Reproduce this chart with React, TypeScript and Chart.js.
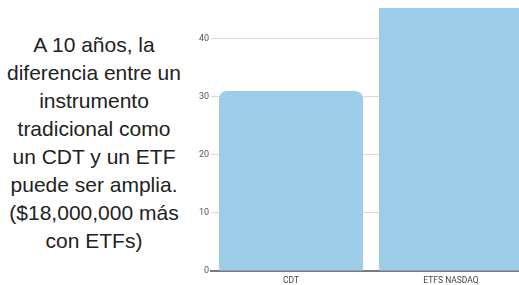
import React, { useEffect, useRef } from "react";
import { Chart, registerables } from "chart.js";

Chart.register(...registerables);

const categories = ["CDT", "ETFS NASDAQ"];
const values = [31, 49];
const yTicks = [0, 10, 20, 30, 40];
const yMax = 45.3;
const textLines = [
  "A 10 años, la",
  "diferencia entre un",
  "instrumento",
  "tradicional como",
  "un CDT y un ETF",
  "puede ser amplia.",
  "($18,000,000 más",
  "con ETFs)",
];

export default function App() {
  const ref = useRef<HTMLCanvasElement | null>(null);

  useEffect(() => {
    if (!ref.current) return;
    const chart = new Chart(ref.current, {
      type: "bar",
      data: {
        labels: categories,
        datasets: [
          {
            data: values,
            backgroundColor: "#9ecde9",
            borderWidth: 0,
            borderRadius: { topLeft: 8, topRight: 8, bottomLeft: 0, bottomRight: 0 },
            borderSkipped: "bottom",
            barPercentage: 0.9,
            categoryPercentage: 1,
            clip: 0,
          },
        ],
      },
      options: {
        responsive: false,
        animation: false,
        maintainAspectRatio: false,
        layout: { padding: { top: 8, left: 0, right: 0, bottom: 0 } },
        plugins: { legend: { display: false }, tooltip: { enabled: false }, title: { display: false } },
        scales: {
          x: {
            grid: { display: false, drawTicks: false },
            border: { display: true, color: "#7a7a7a", width: 2 },
            ticks: {
              color: "#444",
              font: { family: "Roboto", size: 8.5 },
              padding: 5,
            },
            afterFit: (s: any) => {
              s.height = 14;
            },
          },
          y: {
            min: 0,
            max: yMax,
            afterBuildTicks: (s: any) => {
              s.ticks = yTicks.map((v) => ({ value: v }));
            },
            grid: { color: "#d9d9d9", lineWidth: 1, drawTicks: false },
            border: { display: false },
            ticks: {
              color: "#555",
              font: { family: "Roboto", size: 9 },
              padding: 2,
              includeBounds: false,
            },
            afterFit: (s: any) => {
              s.width = 31;
            },
          },
        },
      },
    });
    return () => chart.destroy();
  }, []);

  return (
    <div
      style={{
        position: "fixed",
        left: 0,
        top: 0,
        width: 519,
        height: 285,
        overflow: "hidden",
        background: "#fff",
      }}
    >
      <div
        style={{
          position: "absolute",
          left: 0,
          top: 31,
          width: 188,
          textAlign: "center",
          fontFamily: "'Liberation Sans', Arial, sans-serif",
          fontSize: 21,
          lineHeight: "28px",
          color: "#222",
          whiteSpace: "nowrap",
        }}
      >
        {textLines.map((t, i) => (
          <div key={i}>{t}</div>
        ))}
      </div>
      <canvas
        ref={ref}
        width={351}
        height={285}
        style={{ position: "absolute", left: 180, top: 0, width: 351, height: 285 }}
      />
    </div>
  );
}
